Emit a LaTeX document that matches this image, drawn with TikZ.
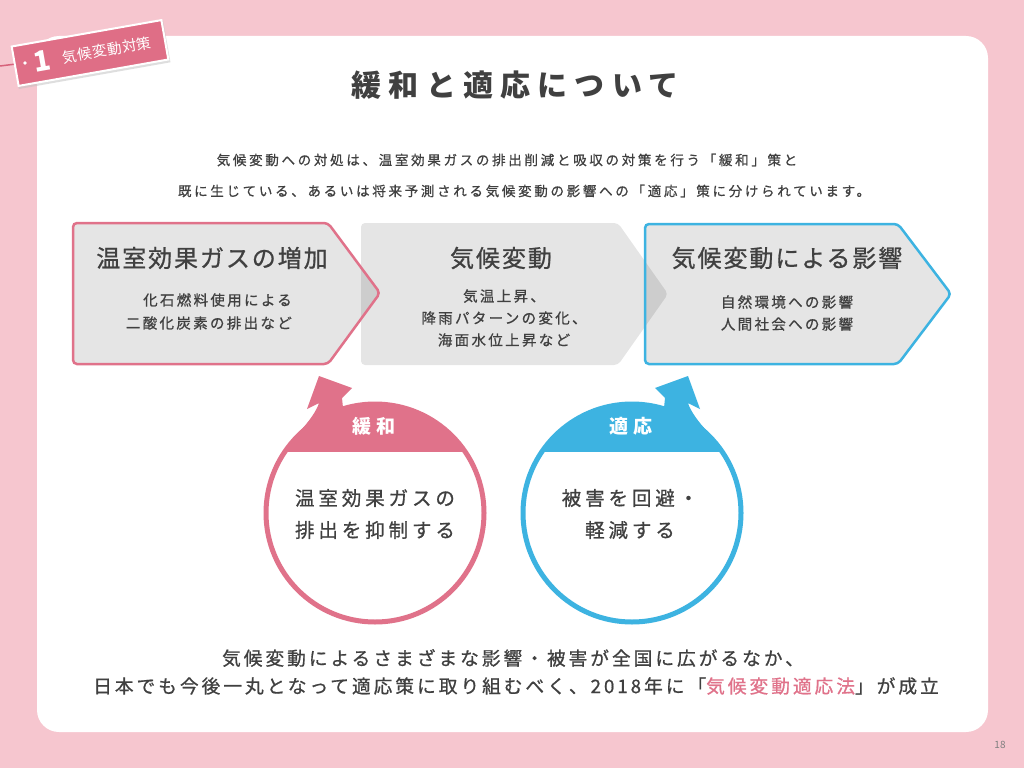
\documentclass[tikz,border=0pt]{standalone}
\usepackage{fontspec}
\setmainfont{Noto Sans CJK JP}
\newfontfamily\jp{Noto Sans CJK JP}
\newfontfamily\jpT[LetterSpace=24]{Noto Sans CJK JP}
\newfontfamily\jpA[LetterSpace=20,FakeBold=0.8]{Noto Sans CJK JP}
\newfontfamily\jpL[LetterSpace=22]{Noto Sans CJK JP}
\newfontfamily\jpB[LetterSpace=16,FakeBold=0.8]{Noto Sans CJK JP}
\newfontfamily\jpC[LetterSpace=8,FakeBold=0.8]{Noto Sans CJK JP}
\newfontfamily\jpD[LetterSpace=4]{Noto Sans CJK JP}
\definecolor{bgpink}{HTML}{F6C6CF}
\definecolor{accpink}{HTML}{E0728A}
\definecolor{accblue}{HTML}{3DB3E1}
\definecolor{txt}{HTML}{404040}
\definecolor{tagpink}{HTML}{DF6E86}
\definecolor{strpink}{HTML}{D7627B}
\begin{document}
\begin{tikzpicture}[x=1pt,y=-1pt,
  boxfill/.style={fill=black, fill opacity=0.1, rounded corners=4},
  boxline/.style={line width=2.5, rounded corners=4},
  boxtitle/.style={text=txt, font=\jpC\fontsize{24}{24}\selectfont, inner sep=0},
  boxsub/.style={text=txt, font=\jpB\fontsize{14.5}{22}\selectfont, align=center, inner sep=0},
  intro/.style={text=txt, font=\jpA\fontsize{13.5}{13.5}\selectfont, inner sep=0},
  circtxt/.style={text=txt, font=\jpA\fontsize{19.5}{32}\selectfont, align=center, inner sep=0},
  bandtxt/.style={text=white, font=\jpL\bfseries\fontsize{19}{19}\selectfont, inner sep=0},
  bottomtxt/.style={text=txt, font=\jpB\fontsize{18.7}{18.7}\selectfont, inner sep=0}]
\useasboundingbox (0,0) rectangle (1024,768);
\fill[bgpink] (0,0) rectangle (1024,768);
\fill[white, rounded corners=22] (37,36) rectangle (988,732);

% tag
\draw[strpink, line width=1.5] (0,66) -- (24,63);
\node[rotate=10, fill=black!25, fill opacity=0.5, minimum width=154, minimum height=42, inner sep=0] (tagshadow) at (91,55) {};
\node[rotate=10, fill=tagpink, draw=white, line width=2, minimum width=152, minimum height=40, inner sep=0] (tag) at (90,53) {};
\fill[white] (25,63) circle (1.8);
\node[rotate=10, text=white, font=\jp\bfseries\fontsize{28}{28}\selectfont, inner sep=0] (tagnum) at (42,61) {1};
\node[rotate=10, text=white, font=\jpD\fontsize{14.5}{14.5}\selectfont, inner sep=0] (tagtxt) at (107,50) {気候変動対策};

% title and intro
\node[text=txt, font=\jpT\bfseries\fontsize{30}{30}\selectfont, inner sep=0] (title) at (515,85) {緩和と適応について};
\node[intro] (intro1) at (507,160) {気候変動への対処は、温室効果ガスの排出削減と吸収の対策を行う「緩和」策と};
\node[intro] (intro2) at (524,191) {既に生じている、あるいは将来予測される気候変動の影響への「適応」策に分けられています。};

% boxes (fills)
\fill[boxfill] (361,223) -- (618,223) -- (668,294) -- (618,365) -- (361,365) -- cycle;
\fill[boxfill] (73,223) -- (328,223) -- (380,293) -- (328,364) -- (73,364) -- cycle;
\fill[boxfill] (645,224) -- (898,224) -- (951,294) -- (898,364) -- (645,364) -- cycle;
\draw[boxline, accpink] (73,223) -- (328,223) -- (380,293) -- (328,364) -- (73,364) -- cycle;
\draw[boxline, accblue] (645,224) -- (898,224) -- (951,294) -- (898,364) -- (645,364) -- cycle;

\node[boxtitle] (t1) at (212,258) {温室効果ガスの増加};
\node[boxsub, anchor=east] (s1a) at (292,300) {化石燃料使用による};
\node[boxsub, anchor=east] (s1b) at (292,323) {二酸化炭素の排出など};
\node[boxtitle] (t2) at (501,258) {気候変動};
\node[boxsub] (s2) at (504,318) {気温上昇、\\降雨パターンの変化、\\海面水位上昇など};
\node[boxtitle] (t3) at (787,258) {気候変動による影響};
\node[boxsub] (s3) at (787,313) {自然環境への影響\\人間社会への影響};

% circles: bands
\begin{scope}
  \clip (200,300) rectangle (800,451);
  \fill[accpink] (375,513) circle (109);
  \fill[accblue] (632,513) circle (109);
\end{scope}
\begin{scope}[shift={(375,513)}]
  \fill[accpink] (-56,-137) -- (-68,-104) -- (-56,-110) .. controls (-58,-103) and (-66,-91) .. (-76,-81) -- (-30,-85) -- (-33,-115) -- (-23,-125) -- cycle;
\end{scope}
\begin{scope}[shift={(632,513)}, xscale=-1]
  \fill[accblue] (-56,-137) -- (-68,-104) -- (-56,-110) .. controls (-58,-103) and (-66,-91) .. (-76,-81) -- (-30,-85) -- (-33,-115) -- (-23,-125) -- cycle;
\end{scope}
\node[circle, draw=accpink, line width=5, minimum size=218, inner sep=0] (mit) at (375,513) {};
\node[circle, draw=accblue, line width=5, minimum size=218, inner sep=0] (ada) at (632,513) {};
\node[bandtxt] (mitlbl) at (374,426) {緩和};
\node[bandtxt] (adalbl) at (631,426) {適応};
\node[circtxt] (mittxt) at (375,514) {温室効果ガスの\\排出を抑制する};
\node[circtxt] (adatxt) at (630,514) {被害を回避・\\軽減する};

% bottom text
\node[bottomtxt] (b1) at (513,658) {気候変動によるさまざまな影響・被害が全国に広がるなか、};
\node[bottomtxt] (b2) at (516,686) {日本でも今後一丸となって適応策に取り組むべく、2018年に「\textcolor{accpink}{気候変動適応法}」が成立};

\node[text=gray, font=\jp\fontsize{10}{10}\selectfont, inner sep=0] (page) at (1000,745) {18};
\end{tikzpicture}
\end{document}
